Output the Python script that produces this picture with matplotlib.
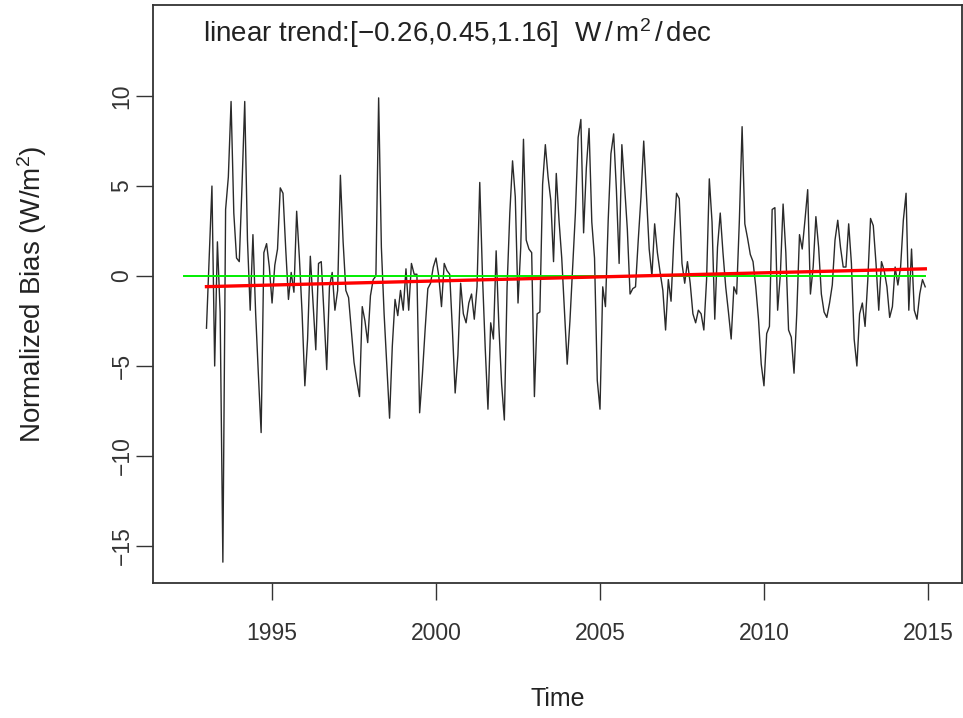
import numpy as np
import matplotlib
matplotlib.use("Agg")
import matplotlib.pyplot as plt

plt.rcParams['font.family'] = ['Liberation Sans', 'DejaVu Sans']
plt.rcParams['mathtext.fontset'] = 'custom'
plt.rcParams['mathtext.rm'] = 'Liberation Sans'
plt.rcParams['mathtext.it'] = 'Liberation Sans'
plt.rcParams['mathtext.default'] = 'regular'

start_year = 1993
bias = [
    # 1993
    -2.9, 1.0, 5.0, -5.0, 1.9, -2.0, -15.9, 3.7, 5.5, 9.7, 3.5, 1.0,
    # 1994
    0.8, 5.0, 9.7, 2.0, -1.9, 2.3, -2.1, -5.5, -8.7, 1.3, 1.8, 0.5,
    # 1995
    -1.5, 0.6, 1.5, 4.9, 4.6, 1.5, -1.3, 0.2, -0.9, 3.6, 1.0, -2.1,
    # 1996
    -6.1, -3.5, 1.1, -1.5, -4.1, 0.7, 0.8, -2.1, -5.2, -0.6, 0.2, -1.9,
    # 1997
    -0.8, 5.6, 1.9, -0.8, -1.2, -3.0, -4.8, -5.8, -6.7, -1.7, -2.5, -3.7,
    # 1998
    -1.1, -0.2, 0.0, 9.9, 1.6, -2.1, -5.0, -7.9, -3.9, -1.3, -2.2, -0.8,
    # 1999
    -1.9, 0.4, -1.9, 0.7, 0.1, 0.1, -7.6, -5.5, -3.0, -0.7, -0.4, 0.5,
    # 2000
    1.0, 0.0, -1.7, 0.7, 0.3, 0.1, -3.0, -6.5, -4.4, -0.4, -2.1, -2.6,
    # 2001
    -1.5, -1.0, -2.4, -0.6, 5.2, 0.0, -4.0, -7.4, -2.6, -3.5, 1.4, -2.8,
    # 2002
    -6.0, -8.0, -0.6, 3.5, 6.4, 4.4, -1.5, 1.6, 7.6, 2.0, 1.5, 1.3,
    # 2003
    -6.7, -2.1, -2.0, 5.1, 7.3, 5.5, 4.2, 0.8, 5.7, 3.1, 1.0, -2.0,
    # 2004
    -4.9, -2.5, 0.5, 3.5, 7.7, 8.7, 2.4, 6.0, 8.2, 3.0, 1.0, -5.8,
    # 2005
    -7.4, -0.6, -1.7, 3.1, 6.8, 7.9, 4.8, 0.7, 7.3, 5.0, 2.6, -1.0,
    # 2006
    -0.7, -0.6, 2.0, 4.4, 7.5, 4.5, 1.5, 0.0, 2.9, 1.3, 0.2, -0.8,
    # 2007
    -3.0, -0.2, -1.4, 2.0, 4.6, 4.3, 0.7, -0.4, 0.8, -0.4, -2.1, -2.6,
    # 2008
    -1.9, -2.1, -3.0, -0.2, 5.4, 3.0, -2.4, 1.6, 3.5, 1.3, -0.6, -2.0,
    # 2009
    -3.5, -0.6, -1.0, 3.1, 8.3, 2.9, 2.1, 1.2, 0.8, -0.6, -2.4, -4.9,
    # 2010
    -6.1, -3.2, -2.8, 3.7, 3.8, -1.9, 0.1, 4.0, 1.3, -3.0, -3.4, -5.4,
    # 2011
    -2.1, 2.3, 1.5, 3.1, 4.8, -1.0, 0.5, 3.3, 1.6, -1.0, -2.0, -2.3,
    # 2012
    -1.5, -0.5, 2.0, 3.1, 1.6, 0.5, 0.5, 2.9, 0.7, -3.5, -5.0, -2.1,
    # 2013
    -1.5, -2.8, -0.2, 3.2, 2.8, 0.7, -1.9, 0.8, 0.3, -0.6, -2.3, -1.7,
    # 2014
    0.5, -0.5, 0.5, 3.1, 4.6, -1.9, 1.5, -1.9, -2.4, -1.0, -0.2, -0.6,
]

trend_years = [1993.0, 2014.92]
trend_values = [-0.59, 0.40]
zero_years = [1992.3, 2014.92]
zero_values = [0.0, 0.0]

x_ticks = [1995, 2000, 2005, 2010, 2015]
y_ticks = [-15, -10, -5, 0, 5, 10]
trend_text = 'linear trend:[\u22120.26,0.45,1.16]  W$\\,$/$\\,$m$^2$$\\,$/$\\,$dec'

t = start_year + np.arange(len(bias)) / 12.0

fig = plt.figure(figsize=(9.63, 7.18), dpi=100)
ax = fig.add_axes([0.1589, 0.188, 0.8401, 0.805])

ax.plot(t, bias, color='#2a2a2a', lw=1.0)
ax.plot(zero_years, zero_values, color='#00ee00', lw=1.4)
ax.plot(trend_years, trend_values, color='#ff0000', lw=2.4)

ax.set_xlim(1991.37, 2016.04)
ax.set_ylim(-17.06, 15.06)
ax.set_xticks(x_ticks)
ax.set_yticks(y_ticks)
ax.set_xticklabels([str(v) for v in x_ticks])
ax.set_yticklabels([str(v).replace('-', '\u2212') for v in y_ticks], rotation=90, va='center')
ax.tick_params(axis='both', direction='out', length=12, width=1.0, labelsize=16.5, colors='#333333')
ax.tick_params(axis='x', pad=16)
ax.tick_params(axis='y', pad=2)
for s in ax.spines.values():
    s.set_linewidth(1.3)
    s.set_color('#333333')

ax.set_xlabel('Time', fontsize=18, labelpad=30, color='#222222')
ax.set_ylabel('Normalized Bias (W/m$^2$)', fontsize=20, labelpad=44, color='#222222')

ax.text(0.062, 0.951, trend_text, transform=ax.transAxes, fontsize=20,
        va='center', ha='left', color='#222222')

fig.savefig('out.png', dpi=100)
